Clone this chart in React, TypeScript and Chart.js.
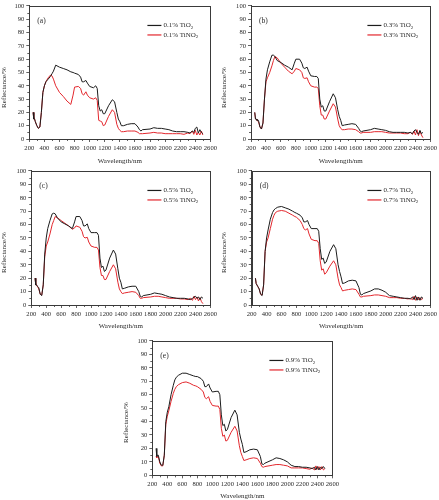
import React, { useEffect, useRef } from "react";
import { Chart, registerables } from "chart.js";

Chart.register(...registerables);

// ---------------- data ----------------
const wavelengths = [
  250, 260, 270, 280, 300, 320, 340, 360, 380, 400,
  420, 450, 480, 500, 520, 550, 600, 650, 700, 750,
  780, 800, 850, 880, 900, 920, 950, 970, 1000, 1050,
  1080, 1100, 1120, 1140, 1160, 1180, 1200, 1250, 1300, 1330,
  1360, 1380, 1400, 1420, 1450, 1500, 1550, 1600, 1640, 1660,
  1680, 1700, 1800, 1850, 1900, 1950, 2000, 2050, 2100, 2150,
  2200, 2250, 2300, 2330, 2360, 2380, 2400, 2420, 2440, 2460,
  2480, 2500,
];

const tio2A = [
  20, 15, 15, 13, 10, 8, 9, 20, 35, 40,
  43, 45, 47, 49, 51, 55.5, 54, 53, 52, 50.5,
  50, 49.5, 48.5, 46.5, 43, 43, 44, 42, 39.5, 38.5,
  40, 38, 25, 21, 22, 19, 19, 25, 29.5, 28,
  20, 15, 13, 10, 10, 11, 11.5, 11.5, 9, 7,
  6, 7, 7.5, 8.5, 8, 8, 7.5, 7, 6, 5.5,
  5.5, 5.5, 5, 4.5, 6, 5, 8, 9, 4.5, 7,
  5, 4,
];
const tino2A = [
  20, 15, 15, 13, 10, 8, 9, 20, 35, 40,
  43, 46, 48, 47.5, 45, 40, 35, 32, 28.5, 26,
  33, 39, 39.5, 38, 34, 33, 35.5, 33, 31, 30,
  31, 29, 14, 13.5, 13, 10, 10.5, 17, 22, 20,
  11, 8, 6.5, 5.5, 5.5, 6, 6, 6, 5, 4,
  4, 4, 4.5, 5, 4.5, 4.5, 4, 4, 4, 4,
  4, 3.5, 4.5, 4, 6, 3.5, 6.5, 3, 5, 3,
  6, 3,
];
const tio2B = [
  20, 15, 15, 14, 14, 9, 7.5, 12, 30, 45,
  52, 58, 63, 63, 62, 59, 57.5, 55.5, 54, 52,
  57, 60, 60, 57, 53.5, 53, 54, 51, 47.5, 47,
  47, 45.5, 30, 24, 25, 21, 21, 28, 34, 31,
  22, 17, 14, 10, 10.5, 11, 11.5, 11, 8, 6,
  5.5, 6, 7, 8, 7.5, 7, 6.5, 5.5, 5, 5,
  5, 5, 4.5, 5, 4, 6, 7, 5, 3.5, 6.5,
  4, 5,
];
const tino2B = [
  20, 15, 15, 14, 13, 9, 7.5, 12, 30, 43,
  46, 50, 55, 59, 62, 61, 57, 54, 51, 49,
  51, 53, 52, 50, 46, 45.5, 46, 43, 40, 39,
  39, 38, 25, 18, 18, 15, 15, 21, 26.5, 24,
  15, 10, 8, 7, 7, 7.5, 7.5, 7, 5.5, 4.5,
  4.5, 5, 5, 5.5, 5.5, 5.5, 5, 4.5, 4.5, 4.5,
  4.5, 4, 4, 5, 3.5, 6, 3, 7, 2.5, 6,
  3, 1,
];
const tio2C = [
  20, 15, 15, 14, 13, 8, 7, 15, 38, 50,
  57, 63, 68, 68.5, 68, 65, 62, 60.5, 59, 57,
  62, 66, 66, 63, 59, 59, 60.5, 57, 54, 54,
  54, 52, 35, 28, 29, 25, 26, 35, 41, 38,
  27, 20, 17, 12, 12.5, 13.5, 14, 14, 10, 6.5,
  6, 7, 8, 9, 8.5, 8, 7, 6, 5.5, 5,
  5, 5, 4.5, 4, 5, 6, 6.5, 5, 6, 4,
  6, 5,
];
const tino2C = [
  20, 15, 15, 14, 12, 8, 7.5, 15, 36, 44,
  47, 53, 60, 63, 66, 65, 63, 61, 59, 56.5,
  57.5, 59, 58, 55, 51, 50, 50.5, 47, 44, 43,
  43, 41, 28, 22, 22, 19, 19, 25, 30, 27,
  17, 12, 10, 8.5, 9, 9.5, 10, 9.5, 7, 5,
  5, 5.5, 6, 6.5, 6.5, 6, 5.5, 5, 5, 5,
  4.5, 4.5, 4, 5, 3.5, 6.5, 4, 6, 3, 5.5,
  2.5, 1,
];
const tio2D = [
  20, 16, 16, 14, 12, 8, 7, 15, 40, 50,
  56, 64, 69, 71, 72, 73, 73.5, 72.5, 71.5, 70,
  69, 68.5, 67, 65, 62, 62, 63, 60, 57, 57,
  57, 55, 42, 34, 35, 31, 32, 40, 45, 42,
  30, 25, 21, 16, 16.5, 18, 18.5, 18, 13, 8,
  7.5, 8.5, 10.5, 12, 12, 11, 9.5, 7, 6.5, 6,
  5.5, 5, 5, 4.5, 6, 4, 7, 3.5, 6, 3.5,
  6, 5,
];
const tino2D = [
  20, 16, 16, 14, 12, 8, 7.5, 15, 40, 47,
  50, 57, 64, 67, 69, 70, 70.5, 70, 68.5, 67,
  66, 65.5, 63, 60, 57, 56, 57, 53, 49, 48,
  48, 46, 33, 26, 27, 23, 24, 29, 33, 30,
  20, 15, 13, 10.5, 11, 11.5, 12, 11.5, 8, 6,
  6, 6.5, 7, 7.5, 7.5, 7, 6.5, 5.5, 5.5, 5.5,
  5, 5, 4.5, 5, 4, 6.5, 3.5, 6, 4, 5.5,
  4, 5,
];
const tio2E = [
  20, 14, 15, 15, 10, 7.5, 7.5, 15, 40, 47,
  51, 60, 67, 71, 73, 74.5, 76, 76, 75, 74,
  73.5, 73.5, 72, 70, 66, 66, 68, 65, 62, 62.5,
  62.5, 60, 45, 37, 38, 33, 34, 43, 48.5, 45,
  32, 27, 23, 17, 17.5, 19, 19.5, 19, 14, 8.5,
  8, 9, 11.5, 13, 12.5, 11.5, 10, 7.5, 6.5, 6.5,
  6, 6, 5.5, 5, 6, 4, 6.5, 4, 6, 5,
  6.5, 5,
];
const tino2E = [
  14, 13, 14, 14, 9, 7, 7, 15, 38, 44,
  48, 55, 61, 64, 66, 67.5, 69, 69.5, 68.5, 67,
  66.5, 66, 64, 62, 58, 57, 58.5, 55, 52, 51.5,
  51.5, 49, 35, 29, 30, 25.5, 26, 32, 36.5, 33,
  22, 17, 14, 11, 11.5, 12.5, 13, 12.5, 9, 6.5,
  6, 6.5, 7.5, 8, 8, 7.5, 7, 5.5, 5.5, 5.5,
  5.5, 5, 4.5, 5.5, 4, 7, 4.5, 6.5, 4, 6.5,
  4, 5,
];

const panelTags = ["(a)", "(b)", "(c)", "(d)", "(e)"];
const dopings = ["0.1%", "0.3%", "0.5%", "0.7%", "0.9%"];
const tio2Series = [tio2A, tio2B, tio2C, tio2D, tio2E];
const tino2Series = [tino2A, tino2B, tino2C, tino2D, tino2E];

const xMin = 200;
const xMax = 2600;
const xStep = 200;
const yMin = 0;
const yMax = 100;
const yStep = 10;
const xTitle = "Wavelength/nm";
const yTitle = "Reflectance/%";

// ---------------- layout / style ----------------
const W = 219;
const H = 165;
const panels = [
  { left: 0, top: 0, yw: 29.3, pr: 6.7, pt: 4.5, xh: 26 },
  { left: 220, top: 0, yw: 31, pr: 6.7, pt: 4.5, xh: 26 },
  { left: 0, top: 165, yw: 31.3, pr: 6.7, pt: 5, xh: 25 },
  { left: 220, top: 165, yw: 31.7, pr: 6.7, pt: 5, xh: 25 },
  { left: 122, top: 335, yw: 30.3, pr: 5.7, pt: 5, xh: 24.7 },
];

const AXIS = "#3a3a3a";
const TEXT = "#2a2a2a";
const BLACK = "#1c1c1c";
const RED = "#e3272d";
const FONT = '"Liberation Serif", "Times New Roman", serif';

const decorPlugin = {
  id: "decor",
  afterDraw(chart: any, _args: any, opts: any) {
    const { ctx, chartArea: ca, scales } = chart;
    const xs = scales.x;
    const ys = scales.y;
    ctx.save();
    ctx.strokeStyle = AXIS;
    ctx.lineWidth = 1;
    // frame
    ctx.strokeRect(
      Math.round(ca.left) + 0.5,
      Math.round(ca.top) + 0.5,
      Math.round(ca.right) - Math.round(ca.left),
      Math.round(ca.bottom) - Math.round(ca.top)
    );
    // minor ticks
    ctx.lineWidth = 0.8;
    ctx.beginPath();
    for (let v = xMin + xStep / 2; v < xMax; v += xStep) {
      const px = Math.round(xs.getPixelForValue(v)) + 0.5;
      ctx.moveTo(px, ca.bottom);
      ctx.lineTo(px, ca.bottom + 2);
    }
    for (let v = yMin + yStep / 2; v < yMax; v += yStep) {
      const py = Math.round(ys.getPixelForValue(v)) + 0.5;
      ctx.moveTo(ca.left, py);
      ctx.lineTo(ca.left - 2, py);
    }
    ctx.stroke();

    // panel tag
    ctx.fillStyle = TEXT;
    ctx.font = `7.5px ${FONT}`;
    ctx.textBaseline = "middle";
    ctx.textAlign = "left";
    ctx.fillText(opts.tag, ca.left + 8, ca.top + 15.5);

    // y title
    ctx.save();
    ctx.font = `7px ${FONT}`;
    ctx.textAlign = "center";
    ctx.translate(4.5, (ca.top + chart.height) / 2 + 2);
    ctx.rotate(-Math.PI / 2);
    ctx.fillText(yTitle, 0, 0);
    ctx.restore();

    // legend
    const entries = opts.entries as { main: string; color: string }[];
    entries.forEach((e, i) => {
      const yy = ca.top + 19.5 + i * 9.5;
      ctx.strokeStyle = e.color;
      ctx.lineWidth = 1.2;
      ctx.beginPath();
      ctx.moveTo(ca.right - 63, yy);
      ctx.lineTo(ca.right - 49, yy);
      ctx.stroke();
      ctx.fillStyle = TEXT;
      ctx.font = `7px ${FONT}`;
      ctx.textBaseline = "middle";
      const tx = ca.right - 47;
      ctx.fillText(e.main, tx, yy);
      const w = ctx.measureText(e.main).width;
      ctx.font = `5px ${FONT}`;
      ctx.fillText("2", tx + w, yy + 2.2);
    });
    ctx.restore();
  },
};

function Panel({ idx }: { idx: number }) {
  const ref = useRef<HTMLCanvasElement | null>(null);
  const p = panels[idx];
  useEffect(() => {
    if (!ref.current) return;
    const mk = (vals: number[]) => wavelengths.map((w, i) => ({ x: w, y: vals[i] }));
    const chart = new Chart(ref.current, {
      type: "line",
      data: {
        datasets: [
          {
            label: `${dopings[idx]} TiO2`,
            data: mk(tio2Series[idx]),
            borderColor: BLACK,
            borderWidth: 1,
            pointRadius: 0,
            tension: 0,
          },
          {
            label: `${dopings[idx]} TiNO2`,
            data: mk(tino2Series[idx]),
            borderColor: RED,
            borderWidth: 1,
            pointRadius: 0,
            tension: 0,
          },
        ],
      },
      options: {
        responsive: false,
        animation: false,
        devicePixelRatio: 1,
        layout: { padding: { left: 0, right: p.pr, top: p.pt, bottom: 0 } },
        plugins: {
          legend: { display: false },
          tooltip: { enabled: false },
          decor: {
            tag: panelTags[idx],
            entries: [
              { main: `${dopings[idx]} TiO`, color: BLACK },
              { main: `${dopings[idx]} TiNO`, color: RED },
            ],
          },
        } as any,
        scales: {
          x: {
            type: "linear",
            min: xMin,
            max: xMax,
            ticks: {
              stepSize: xStep,
              autoSkip: false,
              maxRotation: 0,
              padding: 2,
              color: TEXT,
              font: { family: FONT, size: 6.6 },
              callback: (v: any) => String(v),
            },
            grid: {
              drawOnChartArea: false,
              drawTicks: true,
              tickLength: 3,
              color: AXIS,
              lineWidth: 0.8,
            },
            border: { display: true, color: AXIS, width: 1 },
            title: {
              display: true,
              text: xTitle,
              color: TEXT,
              font: { family: FONT, size: 7 },
              padding: { top: 0, bottom: 0 },
            },
            afterFit: (s: any) => {
              s.height = p.xh;
            },
          },
          y: {
            type: "linear",
            min: yMin,
            max: yMax,
            ticks: {
              stepSize: yStep,
              autoSkip: false,
              padding: 2,
              color: TEXT,
              font: { family: FONT, size: 6.6 },
              callback: (v: any) => String(v),
            },
            grid: {
              drawOnChartArea: false,
              drawTicks: true,
              tickLength: 3,
              color: AXIS,
              lineWidth: 0.8,
            },
            border: { display: true, color: AXIS, width: 1 },
            afterFit: (s: any) => {
              s.width = p.yw;
            },
          },
        },
      },
      plugins: [decorPlugin as any],
    });
    return () => chart.destroy();
  }, [idx]);
  return (
    <canvas
      ref={ref}
      width={W}
      height={H}
      style={{ position: "absolute", left: p.left, top: p.top, width: W, height: H }}
    />
  );
}

export default function App() {
  return (
    <div
      style={{
        position: "fixed",
        left: 0,
        top: 0,
        width: 439,
        height: 500,
        background: "#ffffff",
        overflow: "hidden",
      }}
    >
      {panels.map((_, i) => (
        <Panel key={i} idx={i} />
      ))}
    </div>
  );
}
